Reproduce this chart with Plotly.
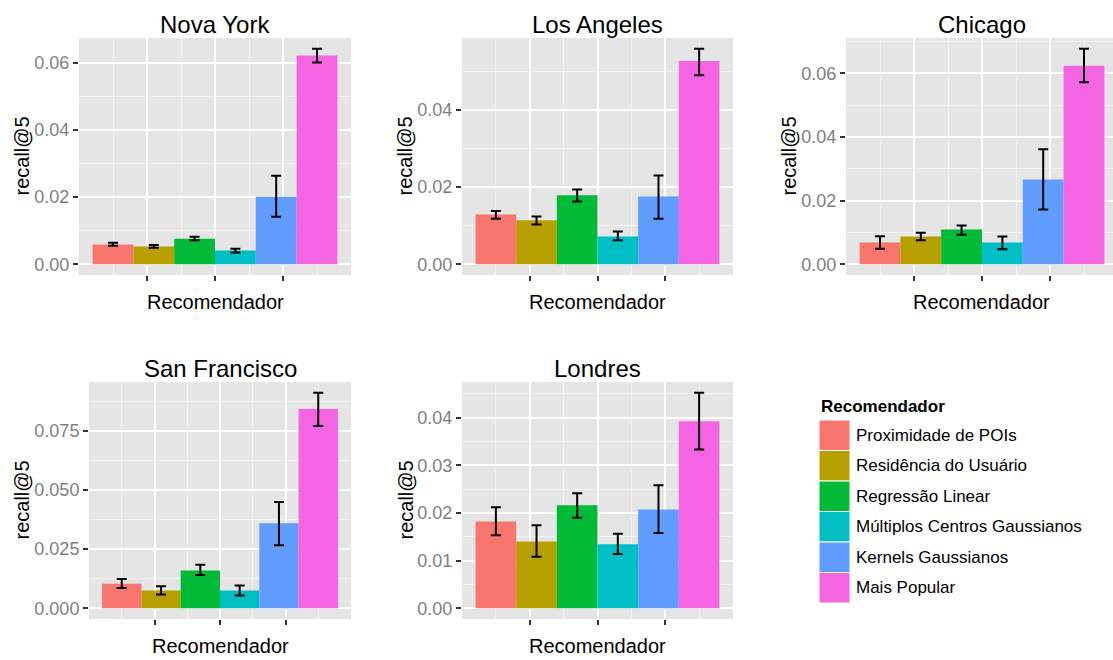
import plotly.graph_objects as go

W, H = 1113, 660

recommenders = ["Proximidade de POIs", "Residência do Usuário", "Regressão Linear",
                "Múltiplos Centros Gaussianos", "Kernels Gaussianos", "Mais Popular"]
colors = ["#F8766D", "#B79F00", "#00BA38", "#00BFC4", "#619CFF", "#F564E3"]
cities = ["Nova York", "Los Angeles", "Chicago", "San Francisco", "Londres"]

ny_values = [0.0059, 0.0053, 0.0076, 0.0041, 0.0201, 0.0621]
ny_lower = [0.0055, 0.0049, 0.0071, 0.0035, 0.0141, 0.0600]
ny_upper = [0.0064, 0.0057, 0.0082, 0.0046, 0.0263, 0.0641]

la_values = [0.0129, 0.0114, 0.0179, 0.0072, 0.0176, 0.0527]
la_lower = [0.0118, 0.0103, 0.0163, 0.0062, 0.0118, 0.0490]
la_upper = [0.0138, 0.0124, 0.0194, 0.0085, 0.0230, 0.0559]

chi_values = [0.0068, 0.0087, 0.0109, 0.0068, 0.0266, 0.0624]
chi_lower = [0.0049, 0.0075, 0.0093, 0.0047, 0.0172, 0.0572]
chi_upper = [0.0088, 0.0099, 0.0122, 0.0087, 0.0361, 0.0677]

sf_values = [0.0103, 0.0075, 0.0160, 0.0075, 0.0359, 0.0842]
sf_lower = [0.0086, 0.0058, 0.0140, 0.0054, 0.0266, 0.0770]
sf_upper = [0.0124, 0.0093, 0.0184, 0.0096, 0.0449, 0.0911]

lon_values = [0.0182, 0.0140, 0.0216, 0.0134, 0.0207, 0.0392]
lon_lower = [0.0153, 0.0108, 0.0190, 0.0114, 0.0158, 0.0333]
lon_upper = [0.0212, 0.0174, 0.0241, 0.0156, 0.0258, 0.0452]

data = {
    "Nova York": (ny_values, ny_lower, ny_upper),
    "Los Angeles": (la_values, la_lower, la_upper),
    "Chicago": (chi_values, chi_lower, chi_upper),
    "San Francisco": (sf_values, sf_lower, sf_upper),
    "Londres": (lon_values, lon_lower, lon_upper),
}

# panel pixel boxes: (x0, x1, y0, y1, xmax, dtick, tickformat)
panels = {
    "Nova York": (79, 351, 38, 275, 4.0, 0.02, ".2f"),
    "Los Angeles": (462, 733, 38, 275, 4.0, 0.02, ".2f"),
    "Chicago": (846, 1113, 38, 275, 4.0 * 267 / 272, 0.02, ".2f"),
    "San Francisco": (89, 351, 382, 619, 4.0, 0.025, ".3f"),
    "Londres": (462, 733, 382, 619, 4.0, 0.01, ".2f"),
}

FONT = "Liberation Sans, Arial, sans-serif"
fig = go.Figure()
annotations = []
shapes = []
layout = {}

for k, city in enumerate(cities):
    ax = "" if k == 0 else str(k + 1)
    vals, lo, up = data[city]
    x0, x1, y0, y1, xmax, dtick, tf = panels[city]
    for i, rec in enumerate(recommenders):
        fig.add_trace(go.Bar(
            x=[0.5 + 0.6 * i], y=[vals[i]], width=0.6, name=rec,
            marker=dict(color=colors[i], line=dict(width=0)),
            error_y=dict(type="data", symmetric=False,
                         array=[up[i] - vals[i]], arrayminus=[vals[i] - lo[i]],
                         color="black", thickness=2, width=5),
            xaxis="x" + ax, yaxis="y" + ax, showlegend=False,
        ))
    ymax = max(up)
    layout["xaxis" + ax] = dict(
        domain=[x0 / W, x1 / W], range=[0, xmax], anchor="y" + ax,
        tickvals=[1, 2, 3], showticklabels=False, ticks="outside", ticklen=5,
        tickcolor="#333333", tickwidth=1.5,
        showgrid=True, gridcolor="white", gridwidth=2,
        minor=dict(tickvals=[0.5, 1.5, 2.5, 3.5], showgrid=True,
                   gridcolor="#F2F2F2", gridwidth=1, ticks=""),
        zeroline=False, showline=False, fixedrange=True,
    )
    layout["yaxis" + ax] = dict(
        domain=[1 - y1 / H, 1 - y0 / H], range=[-0.05 * ymax, 1.05 * ymax],
        anchor="x" + ax, tick0=0, dtick=dtick, tickformat=tf,
        ticks="outside", ticklen=5, tickcolor="#333333", tickwidth=1.5,
        tickfont=dict(size=18, color="#7F7F7F", family=FONT),
        showgrid=True, gridcolor="white", gridwidth=2,
        minor=dict(tick0=0, dtick=dtick / 2, showgrid=True,
                   gridcolor="#F2F2F2", gridwidth=1, ticks=""),
        zeroline=False, showline=False, fixedrange=True,
    )
    cx = (x0 + x1) / 2 if city != "Chicago" else (x0 + x0 + 272) / 2
    cy = (y0 + y1) / 2
    annotations.append(dict(text=city, x=cx / W, y=1 - (y0 - 14) / H, xref="paper", yref="paper",
                            xanchor="center", yanchor="middle", showarrow=False,
                            font=dict(size=24, color="black", family=FONT)))
    annotations.append(dict(text="Recomendador", x=cx / W, y=1 - (y1 + 27) / H, xref="paper",
                            yref="paper", xanchor="center", yanchor="middle", showarrow=False,
                            font=dict(size=20, color="black", family=FONT)))
    annotations.append(dict(text="recall@5", x=(x0 - 57 if city != "San Francisco" else x0 - 68) / W,
                            y=1 - cy / H, xref="paper", yref="paper", textangle=-90,
                            xanchor="center", yanchor="middle", showarrow=False,
                            font=dict(size=20, color="black", family=FONT)))

# legend
LX, LY, KEY, ROW = 819, 420, 31, 30.5
annotations.append(dict(text="<b>Recomendador</b>", x=LX / W, y=1 - 406 / H, xref="paper",
                        yref="paper", xanchor="left", yanchor="middle", showarrow=False,
                        font=dict(size=17, color="black", family=FONT)))
for i, rec in enumerate(recommenders):
    top = LY + i * ROW
    shapes.append(dict(type="rect", xref="paper", yref="paper",
                       x0=LX / W, x1=(LX + KEY) / W, y0=1 - (top + ROW) / H, y1=1 - top / H,
                       fillcolor=colors[i], line=dict(color="white", width=1)))
    annotations.append(dict(text=rec, x=(LX + KEY + 4) / W, y=1 - (top + ROW / 2) / H,
                            xref="paper", yref="paper", xanchor="left", yanchor="middle",
                            showarrow=False, font=dict(size=17, color="black", family=FONT)))

fig.update_layout(
    width=W, height=H, margin=dict(l=0, r=0, t=0, b=0),
    paper_bgcolor="white", plot_bgcolor="#E5E5E5",
    barmode="overlay", font=dict(family=FONT),
    annotations=annotations, shapes=shapes, **layout,
)

fig.write_html("out.html", config={"displayModeBar": False},
               post_script="document.body.style.margin='0';document.body.style.overflow='hidden';")
